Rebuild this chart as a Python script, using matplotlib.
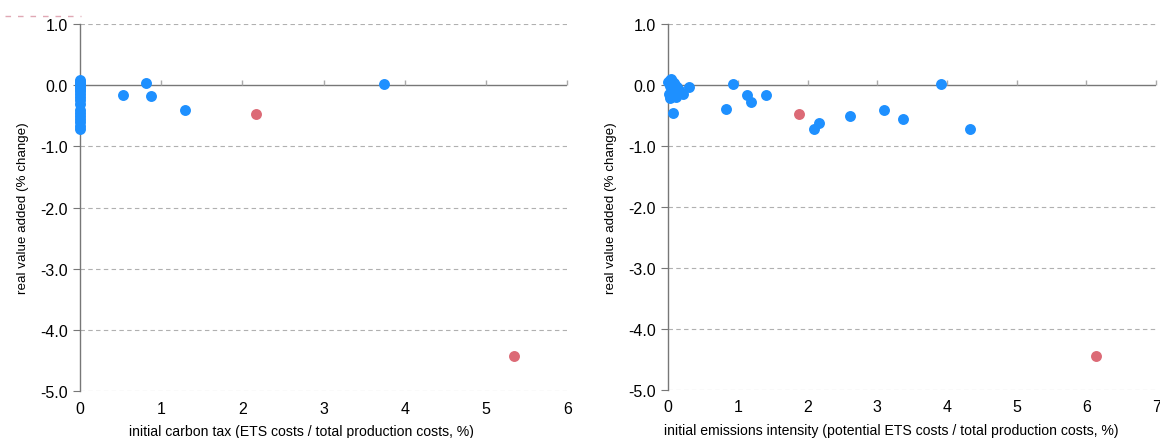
import numpy as np
import matplotlib
matplotlib.use("Agg")
import matplotlib.pyplot as plt
from matplotlib.lines import Line2D

plt.rcParams['font.family'] = ['Liberation Sans', 'DejaVu Sans']
plt.rcParams['axes.unicode_minus'] = False

# left panel: initial carbon tax vs real value added
tax_blue_x = [0, 0, 0, 0, 0, 0, 0, 0, 0, 0, 0, 0, 0, 0, 0, 0, 0, 0,
              0.53, 0.81, 0.87, 1.29, 3.74]
tax_blue_y = [0.08, 0.05, 0.02, 0.0, -0.03, -0.06, -0.1, -0.14, -0.19, -0.25,
              -0.3, -0.4, -0.45, -0.5, -0.55, -0.6, -0.66, -0.72,
              -0.16, 0.03, -0.18, -0.41, 0.02]
tax_red_x = [2.17, 5.35]
tax_red_y = [-0.47, -4.43]

# right panel: initial emissions intensity vs real value added
int_blue_x = [0.0, 0.02, 0.04, 0.06, 0.08, 0.1, 0.12, 0.15, 0.03, 0.05,
              0.09, 0.13, 0.01, 0.07, 0.11, 0.02, 0.05, 0.18,
              0.07, 0.3, 0.21, 0.93, 0.83, 1.13, 1.19, 1.41,
              2.09, 2.17, 2.61, 3.10, 3.37, 3.92, 4.33]
int_blue_y = [0.05, 0.08, 0.1, 0.06, 0.03, 0.0, -0.04, -0.08, -0.02, -0.06,
              -0.1, -0.12, -0.15, -0.18, -0.2, -0.22, -0.13, -0.13,
              -0.46, -0.03, -0.15, 0.02, -0.40, -0.16, -0.28, -0.17,
              -0.72, -0.62, -0.51, -0.41, -0.56, 0.02, -0.72]
int_red_x = [1.88, 6.14]
int_red_y = [-0.48, -4.44]

y_ticks = [1.0, 0.0, -1.0, -2.0, -3.0, -4.0, -5.0]
ylabel = "real value added (% change)"

blue = '#1e90ff'
red = '#dc6a76'
axis_grey = '#777777'

fig = plt.figure(figsize=(11.6, 4.39), dpi=100)
ax1 = fig.add_axes([0.069, 0.107, 0.42, 0.836])
ax2 = fig.add_axes([0.576, 0.11, 0.4207, 0.833])


def style_panel(ax, xmax, xlabel, label_x):
    ax.set_xlim(0, xmax)
    ax.set_ylim(-5, 1)
    ax.set_yticks(y_ticks)
    ax.set_yticklabels(['%.1f' % v for v in y_ticks])
    ax.set_xticks(range(0, xmax + 1))
    for side in ['top', 'right', 'bottom']:
        ax.spines[side].set_visible(False)
    ax.spines['left'].set_color(axis_grey)
    ax.spines['left'].set_linewidth(1.0)
    ax.tick_params(axis='y', length=5, color=axis_grey, labelsize=11.5, pad=4)
    ax.tick_params(axis='x', length=0, labelsize=11.5, pad=7)
    for v in y_ticks:
        if v != 0:
            ax.axhline(v, color='#b0b0b0', lw=0.8, ls=(0, (4, 3)), zorder=0)
    ax.axhline(0, color=axis_grey, lw=1.0, zorder=1)
    # small tick marks standing on the zero line
    ax.vlines(range(1, xmax + 1), 0, 0.08, color='#aaaaaa', lw=1.0,
              zorder=1, clip_on=False)
    ax.set_ylabel(ylabel, fontsize=9.6, labelpad=8)
    ax.set_xlabel(xlabel, fontsize=10.1)
    ax.xaxis.set_label_coords(label_x, -0.09)


style_panel(ax1, 6, "initial carbon tax (ETS costs / total production costs, %)", 0.455)
style_panel(ax2, 7, "initial emissions intensity (potential ETS costs / total production costs, %)", 0.457)

for ax, bx, by, rx, ry in [(ax1, tax_blue_x, tax_blue_y, tax_red_x, tax_red_y),
                           (ax2, int_blue_x, int_blue_y, int_red_x, int_red_y)]:
    ax.scatter(bx, by, s=62, color=blue, zorder=3, clip_on=False, linewidths=0)
    ax.scatter(rx, ry, s=62, color=red, zorder=3, clip_on=False, linewidths=0)

fig.add_artist(Line2D([0.004, 0.07], [0.962, 0.962], transform=fig.transFigure,
                      color='#e0a8b4', lw=1, ls=(0, (4, 5))))

fig.savefig('out.png', dpi=100)
